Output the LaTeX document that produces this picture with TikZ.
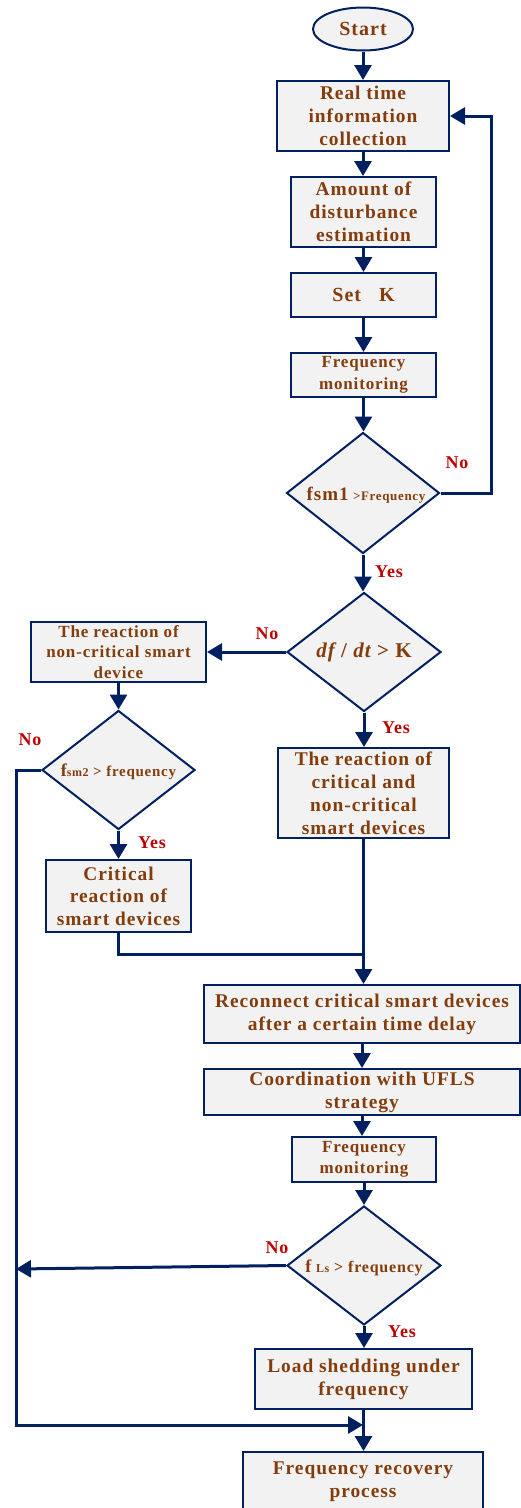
\documentclass[tikz,border=0pt]{standalone}
\usepackage{fontspec}
\setmainfont{Liberation Serif}
\newfontfamily\bxf[LetterSpace=5]{Liberation Serif}
\usetikzlibrary{arrows.meta,shapes.geometric}
\definecolor{navy}{RGB}{0,32,96}
\definecolor{txtbrown}{RGB}{132,60,12}
\definecolor{lblred}{RGB}{192,0,0}
\definecolor{boxfill}{RGB}{242,242,242}
\begin{document}
\begin{tikzpicture}[x=1pt,y=-1pt,
  box/.style={draw=navy,line width=2pt,fill=boxfill,text=txtbrown,inner sep=0pt,align=center,
    font=\bxf\bfseries\fontsize{19.4}{23}\selectfont},
  sbox/.style={box,font=\bxf\bfseries\fontsize{17}{21.5}\selectfont},
  dia/.style={draw=navy,line width=2pt,fill=boxfill,diamond,inner sep=0pt},
  dtext/.style={text=txtbrown,inner sep=0pt,font=\bxf\bfseries\fontsize{15}{18}\selectfont},
  lbl/.style={text=lblred,inner sep=0pt,font=\bxf\bfseries\fontsize{18}{21}\selectfont},
  conn/.style={draw=navy,line width=3pt},
  arr/.style={conn,-{Triangle[length=15pt,width=17pt]}}
]
\useasboundingbox (0,0) rectangle (521,1508);

% nodes
\node[box,ellipse,minimum width=100pt,minimum height=43pt,font=\bxf\bfseries\fontsize{20}{24}\selectfont] (start) at (363,29) {Start};
\node[box,minimum width=172pt,minimum height=70pt] (b1) at (363,116) {Real time\\information\\collection};
\node[box,minimum width=145pt,minimum height=70pt] (b2) at (363.5,212) {Amount of\\disturbance\\estimation};
\node[box,minimum width=145pt,minimum height=44pt,font=\bxf\bfseries\fontsize{20}{24}\selectfont] (b3) at (363.5,295) {Set\hspace{0.9em}K};
\node[sbox,minimum width=145pt,minimum height=44pt] (b4) at (363.5,375) {Frequency\\monitoring};

\node[dia,minimum width=153pt,minimum height=121pt] (d1) at (363,493) {};
\node[dtext] (d1t) at (366,495) {{\fontsize{19}{19}\selectfont fsm1} {\fontsize{13}{13}\selectfont >Frequency}};

\node[dia,minimum width=154pt,minimum height=119pt] (d2) at (364,652) {};
\node[dtext,font=\bxf\bfseries\fontsize{21}{24}\selectfont] (d2t) at (364,652) {{\itshape df} / {\itshape dt} > K};

\node[sbox,minimum width=175pt,minimum height=60pt,font=\bxf\bfseries\fontsize{17}{20.5}\selectfont] (lb) at (118.5,652) {The reaction of\\non-critical smart\\device};

\node[dia,minimum width=153pt,minimum height=119pt] (d3) at (118.5,770) {};
\node[dtext] (d3t) at (118.5,772) {{\fontsize{18}{18}\selectfont f}{\fontsize{12}{12}\selectfont sm2} > frequency};

\node[box,minimum width=171pt,minimum height=90pt] (rb) at (363.5,793) {The reaction of\\critical and\\non-critical\\smart devices};
\node[box,minimum width=145pt,minimum height=72pt,font=\bxf\bfseries\fontsize{19.4}{22.5}\selectfont] (cr) at (118.5,896) {Critical\\reaction of\\smart devices};

\node[box,minimum width=316pt,minimum height=58pt] (rc) at (362,1014) {Reconnect critical smart devices\\after a certain time delay};
\node[box,minimum width=316pt,minimum height=46pt] (co) at (362,1092) {Coordination with UFLS\\strategy};
\node[sbox,minimum width=144pt,minimum height=45pt] (fm2) at (364,1159.5) {Frequency\\monitoring};

\node[dia,minimum width=154pt,minimum height=119pt] (d4) at (364,1265.5) {};
\node[dtext,font=\bxf\bfseries\fontsize{16}{19}\selectfont] (d4t) at (364,1268) {{\fontsize{18}{18}\selectfont f} {\fontsize{12}{12}\selectfont Ls} > frequency};

\node[box,minimum width=217pt,minimum height=60pt] (ls) at (363.5,1379) {Load shedding under\\frequency};
\node[box,minimum width=240pt,minimum height=60pt] (rec) at (363,1482) {Frequency recovery\\process};

% labels
\node[lbl] (no1) at (457,463) {No};
\node[lbl] (yes1) at (389,572) {Yes};
\node[lbl] (no2) at (267,634) {No};
\node[lbl] (yes2) at (396,728) {Yes};
\node[lbl] (no3) at (30,740) {No};
\node[lbl] (yes3) at (152,843) {Yes};
\node[lbl] (no4) at (277,1248) {No};
\node[lbl] (yes4) at (402,1332) {Yes};

% helper coordinates
\coordinate (lft) at (16,0);
\coordinate (ja) at (363,954);
\coordinate (jb) at (363,1425);
\coordinate (lt4) at (16,1269);
\coordinate (rgt) at (491,0);

% connectors
\draw[arr] (start.south) -- (start.south |- b1.north);
\draw[arr] (b1.south) -- (b1.south |- b2.north);
\draw[arr] (b2.south) -- (b2.south |- b3.north);
\draw[arr] (b3.south) -- (b3.south |- b4.north);
\draw[arr] (b4.south) -- (b4.south |- d1.north);
\draw[arr] (d1.east) -- (d1.east -| rgt) |- (b1.east);
\draw[arr] (d1.south) -- (d1.south |- d2.north);
\draw[arr] (d2.west) -- (d2.west -| lb.east);
\draw[arr] (d2.south) -- (d2.south |- rb.north);
\draw[arr] (lb.south) -- (lb.south |- d3.north);
\draw[arr] (d3.south) -- (d3.south |- cr.north);
\draw[arr] (d3.west) -- (d3.west -| lft) |- (jb);
\draw[conn] (cr.south) |- (ja);
\draw[arr] (rb.south) -- (rb.south |- rc.north);
\draw[arr] (rc.south) -- (rc.south |- co.north);
\draw[arr] (co.south) -- (co.south |- fm2.north);
\draw[arr] (fm2.south) -- (fm2.south |- d4.north);
\draw[arr] (d4.west) -- (lt4);
\draw[arr] (d4.south) -- (d4.south |- ls.north);
\draw[arr] (ls.south) -- (ls.south |- rec.north);
\end{tikzpicture}
\end{document}
